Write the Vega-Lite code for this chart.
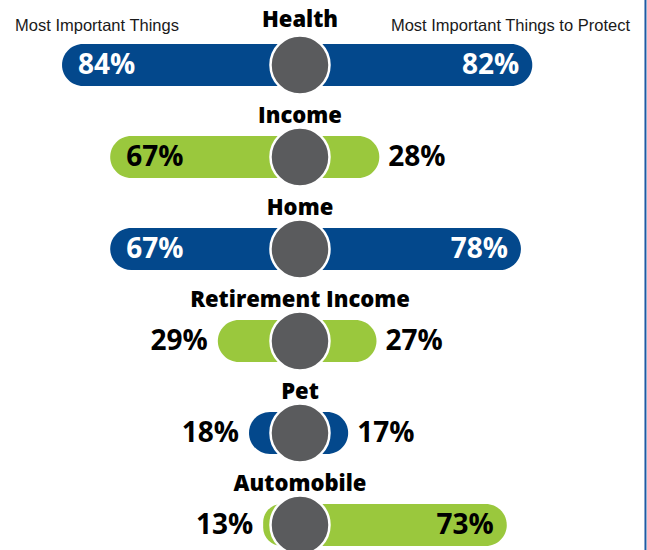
{
  "$schema": "https://vega.github.io/schema/vega-lite/v6.json",
  "width": 647,
  "height": 550,
  "autosize": "none",
  "padding": 0,
  "background": "white",
  "config": {"view": {"stroke": null}},
  "data": {
    "values": [
      {"category": "Health", "left": 0.84, "right": 0.82},
      {"category": "Income", "left": 0.67, "right": 0.28},
      {"category": "Home", "left": 0.67, "right": 0.78},
      {"category": "Retirement Income", "left": 0.29, "right": 0.27},
      {"category": "Pet", "left": 0.18, "right": 0.17},
      {"category": "Automobile", "left": 0.13, "right": 0.73}
    ]
  },
  "transform": [{"calculate": "-datum.left", "as": "leftNeg"}],
  "layer": [
    {
      "mark": {"type": "bar", "size": 42, "cornerRadius": 21},
      "encoding": {
        "y": {"field": "category", "type": "nominal", "sort": null, "scale": {"type": "point", "range": [65, 525], "padding": 0}, "axis": null},
        "x": {"field": "leftNeg", "type": "quantitative", "scale": {"domain": [-1.059, 1.225], "nice": false, "zero": false}, "axis": null},
        "x2": {"datum": 0},
        "color": {
          "field": "category", "type": "nominal", "legend": null,
          "scale": {
            "domain": ["Health", "Income", "Home", "Retirement Income", "Pet", "Automobile"],
            "range": ["#03488c", "#9ac83d", "#03488c", "#9ac83d", "#03488c", "#9ac83d"]
          }
        }
      }
    },
    {
      "mark": {"type": "bar", "size": 42, "cornerRadius": 21},
      "encoding": {
        "y": {"field": "category", "type": "nominal", "sort": null},
        "x": {"field": "right", "type": "quantitative"},
        "x2": {"datum": 0},
        "color": {"field": "category", "type": "nominal", "legend": null}
      }
    },
    {
      "mark": {"type": "point", "shape": "circle", "filled": true, "size": 3481, "fill": "#5a5b5d", "stroke": "white", "strokeWidth": 2.5, "opacity": 1},
      "encoding": {
        "y": {"field": "category", "type": "nominal", "sort": null},
        "x": {"datum": 0, "type": "quantitative"}
      }
    },
    {
      "transform": [{"filter": "datum.category !== 'Health'"}],
      "mark": {"type": "text", "font": "Open Sans", "fontWeight": 800, "fontSize": 22, "color": "#000", "dy": -34, "baseline": "alphabetic", "align": "center"},
      "encoding": {
        "y": {"field": "category", "type": "nominal", "sort": null},
        "x": {"datum": 0, "type": "quantitative"},
        "text": {"field": "category", "type": "nominal"}
      }
    },
    {
      "transform": [{"filter": "datum.category === 'Health'"}],
      "mark": {"type": "text", "font": "Open Sans", "fontWeight": 800, "fontSize": 22, "color": "#000", "dy": -38, "baseline": "alphabetic", "align": "center"},
      "encoding": {
        "y": {"field": "category", "type": "nominal", "sort": null},
        "x": {"datum": 0, "type": "quantitative"},
        "text": {"field": "category", "type": "nominal"}
      }
    },
    {
      "transform": [{"filter": "datum.left >= 0.5"}],
      "mark": {"type": "text", "font": "Open Sans", "fontWeight": 700, "fontSize": 28, "align": "left", "baseline": "middle", "dx": 16, "dy": 1},
      "encoding": {
        "y": {"field": "category", "type": "nominal", "sort": null},
        "x": {"field": "leftNeg", "type": "quantitative"},
        "text": {"field": "left", "type": "quantitative", "format": ".0%"},
        "color": {"condition": {"test": "indexof(['Health','Home','Pet'], datum.category) >= 0", "value": "white"}, "value": "#000"}
      }
    },
    {
      "transform": [{"filter": "datum.left < 0.5"}],
      "mark": {"type": "text", "font": "Open Sans", "fontWeight": 700, "fontSize": 28, "align": "right", "baseline": "middle", "dx": -10, "dy": 1, "color": "#000"},
      "encoding": {
        "y": {"field": "category", "type": "nominal", "sort": null},
        "x": {"field": "leftNeg", "type": "quantitative"},
        "text": {"field": "left", "type": "quantitative", "format": ".0%"}
      }
    },
    {
      "transform": [{"filter": "datum.right >= 0.5"}],
      "mark": {"type": "text", "font": "Open Sans", "fontWeight": 700, "fontSize": 28, "align": "right", "baseline": "middle", "dx": -13, "dy": 1},
      "encoding": {
        "y": {"field": "category", "type": "nominal", "sort": null},
        "x": {"field": "right", "type": "quantitative"},
        "text": {"field": "right", "type": "quantitative", "format": ".0%"},
        "color": {"condition": {"test": "indexof(['Health','Home','Pet'], datum.category) >= 0", "value": "white"}, "value": "#000"}
      }
    },
    {
      "transform": [{"filter": "datum.right < 0.5"}],
      "mark": {"type": "text", "font": "Open Sans", "fontWeight": 700, "fontSize": 28, "align": "left", "baseline": "middle", "dx": 9, "dy": 1, "color": "#000"},
      "encoding": {
        "y": {"field": "category", "type": "nominal", "sort": null},
        "x": {"field": "right", "type": "quantitative"},
        "text": {"field": "right", "type": "quantitative", "format": ".0%"}
      }
    },
    {
      "transform": [{"filter": "datum.category === 'Health'"}],
      "mark": {"type": "text", "font": "Liberation Sans", "fontSize": 16.5, "align": "center", "baseline": "alphabetic", "dy": -34, "color": "#1a1a1a", "text": "Most Important Things"},
      "encoding": {
        "y": {"field": "category", "type": "nominal", "sort": null},
        "x": {"datum": -0.7166, "type": "quantitative"}
      }
    },
    {
      "transform": [{"filter": "datum.category === 'Health'"}],
      "mark": {"type": "text", "font": "Liberation Sans", "fontSize": 16.5, "align": "right", "baseline": "alphabetic", "dy": -34, "color": "#1a1a1a", "text": "Most Important Things to Protect"},
      "encoding": {
        "y": {"field": "category", "type": "nominal", "sort": null},
        "x": {"datum": 1.165, "type": "quantitative"}
      }
    },
    {
      "transform": [{"filter": "datum.category === 'Health'"}],
      "mark": {"type": "rule", "color": "#1f5aa3", "strokeWidth": 2},
      "encoding": {
        "x": {"datum": 1.2196, "type": "quantitative"}
      }
    }
  ]
}
